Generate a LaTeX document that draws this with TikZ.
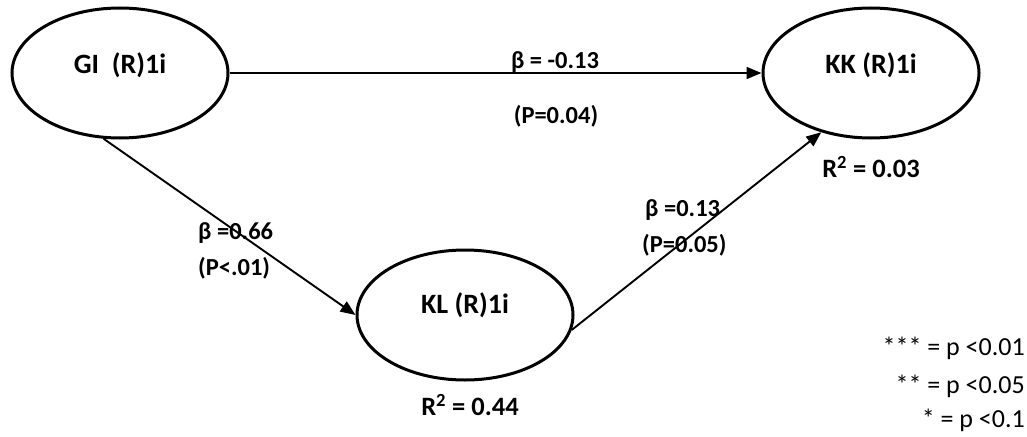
\documentclass[tikz,border=0pt]{standalone}
\usepackage{fontspec}
\setmainfont{Carlito}
\usetikzlibrary{shapes.geometric,arrows.meta}
\begin{document}
\begin{tikzpicture}[x=1pt,y=-1pt,
  latent/.style={ellipse,draw,line width=3pt,minimum width=216pt,minimum height=130pt,inner sep=0pt},
  nodetext/.style={font=\bfseries\fontsize{28}{32}\selectfont,inner sep=0pt},
  pathtext/.style={font=\bfseries\fontsize{24.5}{28}\selectfont,inner sep=0pt},
  rsq/.style={font=\bfseries\fontsize{26.5}{30}\selectfont,inner sep=0pt},
  legend/.style={font=\fontsize{26}{30}\selectfont,inner sep=0pt,anchor=east},
  path/.style={line width=1.9pt,-{Triangle[length=15pt,width=12pt]}}]
\useasboundingbox (0,0) rectangle (1027,436);
\node[latent] (gi) at (120,73) {};
\node[latent] (kk) at (871,73) {};
\node[latent] (kl) at (465,315) {};
\node[nodetext] (gil) at (120,65) {GI\ \ (R)1i};
\node[nodetext] (kkl) at (871,65) {KK (R)1i};
\node[nodetext] (kll) at (465,305) {KL (R)1i};
\draw[path] (gi.east) -- (kk.west);
\draw[path] (gi.256) -- (kl.west);
\draw[path] (kl.-8) -- (kk.230);
\node[pathtext] (b1) at (555,62) {β = -0.13};
\node[pathtext] (p1) at (556,116) {(P=0.04)};
\node[pathtext,anchor=west] (b2) at (198,233) {β =0.66};
\node[pathtext,anchor=west] (p2) at (198,268) {(P<.01)};
\node[pathtext,anchor=west] (b3) at (645,210) {β =0.13};
\node[pathtext,anchor=west] (p3) at (642,245) {(P=0.05)};
\node[rsq] (r1) at (871,167) {R\textsuperscript{2} = 0.03};
\node[rsq] (r2) at (470,405) {R\textsuperscript{2} = 0.44};
\node[legend] (l1) at (1025,348) {*** = p <0.01};
\node[legend] (l2) at (1025,386) {** = p <0.05};
\node[legend] (l3) at (1025,420) {* = p <0.1};
\end{tikzpicture}
\end{document}
